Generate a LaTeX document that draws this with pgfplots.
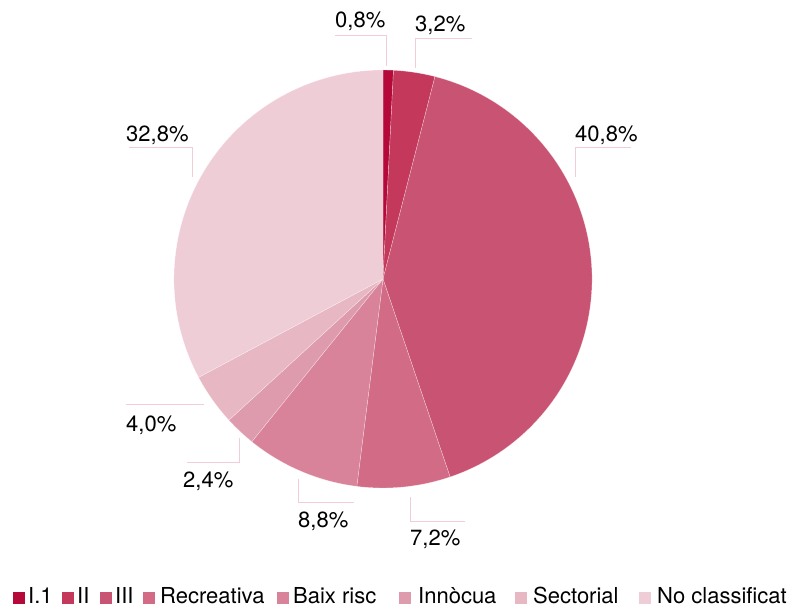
\documentclass[border=0pt]{standalone}
\usepackage{pgfplots}
\usepackage{pgfplotstable}
\pgfplotsset{compat=1.18}
\usepackage{fontspec}
\setmainfont{TeX Gyre Heros}

\definecolor{cA}{HTML}{B5093A}
\definecolor{cB}{HTML}{C4385C}
\definecolor{cC}{HTML}{C95373}
\definecolor{cD}{HTML}{D26B86}
\definecolor{cE}{HTML}{D8839A}
\definecolor{cF}{HTML}{DE9BAE}
\definecolor{cG}{HTML}{E7B7C4}
\definecolor{cH}{HTML}{EFCDD6}
\definecolor{leader}{HTML}{F2CDD6}

% share of each category, in %, clockwise from the top
\pgfplotstableread{
name value col
I.1 0.8 cA
II 3.2 cB
III 40.8 cC
Recreativa 7.2 cD
{Baix risc} 8.8 cE
Innòcua 2.4 cF
Sectorial 4.0 cG
{No classificat} 32.8 cH
}\piedata

\begin{document}
\begin{tikzpicture}
\begin{axis}[
  width=794bp, height=610bp, scale only axis,
  hide axis, clip=false,
  xmin=0, xmax=794, ymin=0, ymax=610, y dir=reverse,
]
\path (axis cs:0,0) rectangle (axis cs:794,610);

% --- slices ---
\def\angA{90}
\pgfplotsforeachungrouped \i in {0,...,7}{%
  \pgfplotstablegetelem{\i}{value}\of\piedata \let\sliceval\pgfplotsretval
  \pgfplotstablegetelem{\i}{col}\of\piedata \let\slicecol\pgfplotsretval
  \pgfmathsetmacro\angB{\angA-3.6*\sliceval}
  \edef\temp{\noexpand\fill[\slicecol, draw=white, draw opacity=0.5, line width=0.4pt]
    (axis cs:383,279) -- ++(\angA:209bp) arc[start angle=\angA, end angle=\angB, radius=209bp] -- cycle;}
  \temp
  \global\let\angA\angB
}

% --- leader lines ---
\begin{scope}[leader, line width=1pt]
\draw (axis cs:335,36) -- (axis cs:386,36) -- (axis cs:386,66);
\draw (axis cs:472,39) -- (axis cs:415,39) -- (axis cs:415,68);
\draw (axis cs:631,148) -- (axis cs:575,148) -- (axis cs:575,177);
\draw (axis cs:129,148) -- (axis cs:192,148) -- (axis cs:192,177);
\draw (axis cs:126,405) -- (axis cs:204,405);
\draw (axis cs:239,438) -- (axis cs:239,463) -- (axis cs:187,463);
\draw (axis cs:298,479) -- (axis cs:298,503) -- (axis cs:354,503);
\draw (axis cs:410,497) -- (axis cs:410,522) -- (axis cs:465,522);
\end{scope}

% --- value labels ---
\begin{scope}[every node/.style={anchor=base west, inner sep=0pt, font=\fontsize{22bp}{26bp}\selectfont}]
\node at (axis cs:335,28) {0,8\%};
\node at (axis cs:415,32) {3,2\%};
\node at (axis cs:575,142) {40,8\%};
\node at (axis cs:126,142) {32,8\%};
\node at (axis cs:126,432) {4,0\%};
\node at (axis cs:183,488) {2,4\%};
\node at (axis cs:298,528) {8,8\%};
\node at (axis cs:410,546) {7,2\%};
\end{scope}

% --- legend ---
\begin{scope}[every node/.style={anchor=base west, inner sep=0pt, font=\fontsize{22bp}{26bp}\selectfont}]
\fill[cA] (axis cs:13,592) rectangle (axis cs:25,604);  \node at (axis cs:28,604) {I.1};
\fill[cB] (axis cs:62,592) rectangle (axis cs:74,604);  \node at (axis cs:77,604) {II};
\fill[cC] (axis cs:100,592) rectangle (axis cs:112,604); \node at (axis cs:115,604) {III};
\fill[cD] (axis cs:143,592) rectangle (axis cs:155,604); \node at (axis cs:160,604) {Recreativa};
\fill[cE] (axis cs:277,592) rectangle (axis cs:289,604); \node at (axis cs:293,604) {Baix risc};
\fill[cF] (axis cs:399,592) rectangle (axis cs:411,604); \node at (axis cs:418,604) {Innòcua};
\fill[cG] (axis cs:515,592) rectangle (axis cs:527,604); \node at (axis cs:533,604) {Sectorial};
\fill[cH] (axis cs:639,592) rectangle (axis cs:651,604); \node at (axis cs:657,604) {No classificat};
\end{scope}
\end{axis}
\end{tikzpicture}
\end{document}
